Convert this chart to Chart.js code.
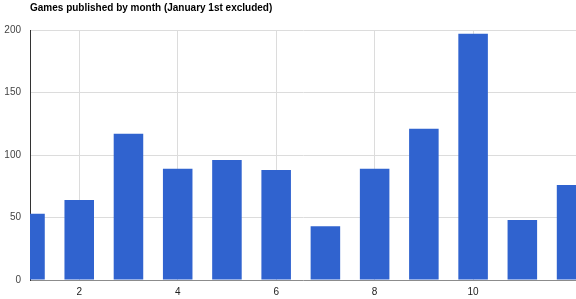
<!DOCTYPE html>
<html>
<head>
<meta charset="utf-8">
<script src="https://cdn.jsdelivr.net/npm/chart.js@4/dist/chart.umd.min.js"></script>
<style>
  html, body { margin: 0; padding: 0; background: #fff; }
  #wrap { width: 576px; height: 299px; position: relative; }
</style>
</head>
<body>
<div id="wrap"><canvas id="chart" width="576" height="299"></canvas></div>
<script>
const TITLE = 'Games published by month (January 1st excluded)'
const months = [1, 2, 3, 4, 5, 6, 7, 8, 9, 10, 11, 12]
const games = [53, 64, 117, 89, 96, 88, 43, 89, 121, 197, 48, 76]
const xTicks = [2, 4, 6, 8, 10]
const yTicks = [0, 50, 100, 150, 200]

const FONT = "'Liberation Sans', Arial, sans-serif"

// title sits over the plot's left edge, like the original
const titlePlugin = {
  id: 'leftTitle',
  afterDraw(chart) {
    const ctx = chart.ctx
    ctx.save()
    ctx.font = 'bold 10px ' + FONT
    ctx.fillStyle = '#000'
    ctx.textBaseline = 'middle'
    ctx.textAlign = 'left'
    ctx.fillText(TITLE, chart.chartArea.left, 8)
    ctx.restore()
  },
}

new Chart(document.getElementById('chart'), {
  type: 'bar',
  data: {
    datasets: [
      {
        label: 'Games',
        data: months.map((m, i) => ({ x: m, y: games[i] })),
        backgroundColor: '#3063cf',
        borderWidth: 0,
        barPercentage: 0.6,
        categoryPercentage: 1,
      },
    ],
  },
  options: {
    responsive: false,
    animation: false,
    layout: { padding: { top: 30, right: 0, bottom: 0, left: 0 } },
    plugins: {
      legend: { display: false },
      tooltip: { enabled: false },
    },
    scales: {
      x: {
        type: 'linear',
        offset: false,
        min: 1,
        max: 12.09,
        afterBuildTicks: (s) => { s.ticks = xTicks.map((v) => ({ value: v })) },
        afterFit: (s) => { s.height = 19 },
        grid: { color: '#dcdcdc', drawTicks: false, offset: false },
        border: { color: '#8c8c8c', width: 1 },
        ticks: {
          padding: 6,
          color: '#222',
          font: { family: FONT, size: 10 },
          autoSkip: false,
          maxRotation: 0,
        },
      },
      y: {
        min: 0,
        max: 200,
        afterBuildTicks: (s) => { s.ticks = yTicks.map((v) => ({ value: v })) },
        afterFit: (s) => { s.width = 30 },
        grid: { color: '#dcdcdc', drawTicks: false },
        border: { color: '#333', width: 1 },
        ticks: {
          padding: 9,
          color: '#444',
          font: { family: FONT, size: 10 },
        },
      },
    },
  },
  plugins: [titlePlugin],
})
</script>
</body>
</html>
